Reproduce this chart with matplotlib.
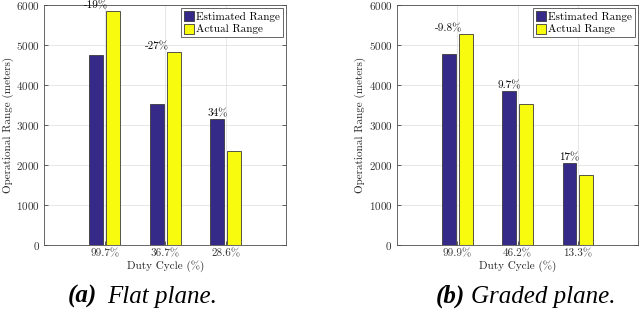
import matplotlib
matplotlib.use('Agg')
import matplotlib.pyplot as plt
import numpy as np

# data
flat_cycles = ['99.7%', '36.7%', '28.6%']
flat_est = [4760, 3525, 3155]
flat_act = [5850, 4830, 2360]
flat_labels = ['-19%', '-27%', '34%']

graded_cycles = ['99.9%', '46.2%', '13.3%']
graded_est = [4765, 3850, 2045]
graded_act = [5280, 3520, 1760]
graded_labels = ['-9.8%', '9.7%', '17%']

BLUE = '#352a87'
YELLOW = '#f9fb0e'

plt.rcParams['font.family'] = 'serif'
plt.rcParams['font.serif'] = ['cmr10', 'DejaVu Serif']
plt.rcParams['axes.unicode_minus'] = False
plt.rcParams['axes.formatter.use_mathtext'] = True

fig = plt.figure(figsize=(6.4, 3.14), dpi=100)


def panel(rect, cycles, est, act, labels):
    ax = fig.add_axes(rect)
    x = np.arange(1, len(cycles) + 1)
    w = 0.23
    ax.bar(x - 0.14, est, w, color=BLUE, edgecolor='#3a3a3a', lw=0.6,
           label='Estimated Range', zorder=3)
    ax.bar(x + 0.14, act, w, color=YELLOW, edgecolor='#3a3a3a', lw=0.6,
           label='Actual Range', zorder=3)
    for xi, e, a, t in zip(x, est, act, labels):
        ax.text(xi - 0.14, max(e, a) + 20, t, ha='center', va='bottom',
                fontsize=8, zorder=4, clip_on=False)
    ax.set_xlim(0, 4)
    ax.set_ylim(0, 6000)
    ax.set_xticks(x)
    ax.set_xticklabels(cycles)
    ax.set_yticks(range(0, 6001, 1000))
    ax.tick_params(direction='in', length=3, width=0.5, labelsize=8,
                   colors='#262626', labelcolor='#333333', right=True,
                   top=False, pad=3)
    ax.grid(True, color='#e3e3e3', lw=0.6, zorder=0)
    for s in ax.spines.values():
        s.set_color('#4d4d4d')
        s.set_linewidth(0.6)
    ax.set_xlabel('Duty Cycle (%)', fontsize=8, labelpad=1, color='#262626')
    ax.set_ylabel('Operational Range (meters)', fontsize=8, labelpad=2,
                  color='#262626')
    leg = ax.legend(loc='upper right', fontsize=8, fancybox=False,
                    framealpha=1, edgecolor='#4d4d4d', handlelength=0.9,
                    handleheight=1.0, handletextpad=0.2, borderpad=0.25,
                    labelspacing=0.15, borderaxespad=0.3)
    leg.get_frame().set_linewidth(0.6)
    return ax


panel([0.0694, 0.2197, 0.3777, 0.7643], flat_cycles, flat_est, flat_act,
      flat_labels)
panel([0.6198, 0.2197, 0.3777, 0.7643], graded_cycles, graded_est,
      graded_act, graded_labels)

cap = dict(fontsize=18, family='Liberation Serif', va='baseline')
fig.text(0.152, 0.035, '(a)', weight='bold', style='italic', ha='right', **cap)
fig.text(0.168, 0.035, 'Flat plane.', style='italic', ha='left', **cap)
fig.text(0.727, 0.035, '(b)', weight='bold', style='italic', ha='right', **cap)
fig.text(0.736, 0.035, 'Graded plane.', style='italic', ha='left', **cap)

fig.savefig('out.png', dpi=100)
